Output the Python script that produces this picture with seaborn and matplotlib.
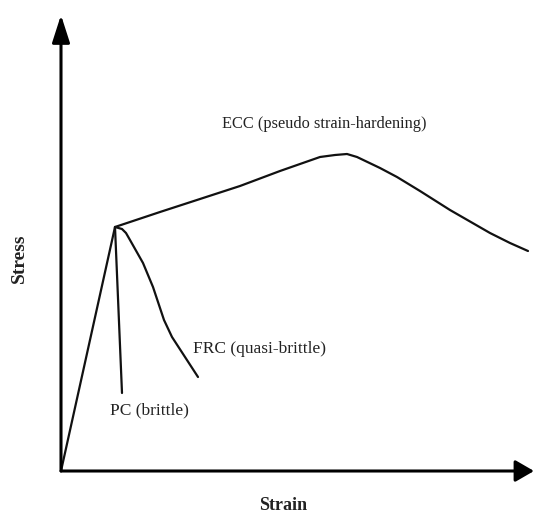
import pandas as pd
import numpy as np
import matplotlib
matplotlib.use("Agg")
import matplotlib.pyplot as plt
import seaborn as sns

# strain / stress values (arbitrary units)
rise_strain = [0.0, 5.4]
rise_stress = [0.0, 24.4]

ecc_strain = [5.4, 9.9, 13.9, 17.9, 21.9, 25.9, 27.4, 28.6, 29.6, 31.9, 33.6, 35.9, 38.9, 42.9, 44.9, 46.7]
ecc_stress = [24.4, 25.9, 27.2, 28.5, 30.0, 31.4, 31.6, 31.7, 31.4, 30.3, 29.4, 28.0, 26.1, 23.8, 22.8, 22.0]

frc_strain = [5.4, 6.1, 6.5, 6.9, 8.2, 9.2, 9.7, 10.3, 11.1, 12.4, 13.7]
frc_stress = [24.4, 24.2, 23.8, 23.1, 20.8, 18.4, 16.9, 15.1, 13.4, 11.4, 9.4]

pc_strain = [5.4, 6.1]
pc_stress = [24.4, 7.8]

labels = ["ECC (pseudo strain-hardening)", "FRC (quasi-brittle)", "PC (brittle)"]

sns.set_theme(style="white")
plt.rcParams['font.family'] = ['Liberation Serif', 'DejaVu Serif']

fig = plt.figure(figsize=(5.36, 5.13), dpi=100)
ax = fig.add_axes([61/536, 42/513, 473/536, 456/513])

for xs, ys in [(rise_strain, rise_stress), (ecc_strain, ecc_stress),
               (frc_strain, frc_stress), (pc_strain, pc_stress)]:
    sns.lineplot(x=xs, y=ys, sort=False, estimator=None, color="#111111",
                 lw=1.6, solid_joinstyle="round", solid_capstyle="round", ax=ax)

ax.set_xlim(0, 47.3)
ax.set_ylim(0, 45.6)
for s in ax.spines.values():
    s.set_visible(False)
ax.set_xticks([])
ax.set_yticks([])

# axis arrows
ax.annotate("", xy=(1, 0), xytext=(0, 0), xycoords="axes fraction",
            arrowprops=dict(arrowstyle="-|>,head_length=0.95,head_width=0.55",
                            lw=2.2, color="black", shrinkA=0, shrinkB=0))
ax.annotate("", xy=(0, 1), xytext=(0, 0), xycoords="axes fraction",
            arrowprops=dict(arrowstyle="-|>,head_length=1.4,head_width=0.45",
                            lw=2.2, color="black", shrinkA=0, shrinkB=0))

txt = "#222222"
ax.text(16.1, 34.7, labels[0], ha="left", va="center", fontsize=11.8, color=txt)
ax.text(13.2, 12.2, labels[1], ha="left", va="center", fontsize=12.5, color=txt)
ax.text(4.9, 6.1, labels[2], ha="left", va="center", fontsize=12.5, color=txt)

fig.text(283/536, 1 - 506/513, "Strain", ha="center", va="center",
         fontsize=13, fontweight="bold", color=txt)
fig.text(19/536, 1 - 258/513, "Stress", ha="center", va="center",
         fontsize=14, fontweight="bold", rotation=90, color=txt)

fig.savefig("out.png", dpi=100)
